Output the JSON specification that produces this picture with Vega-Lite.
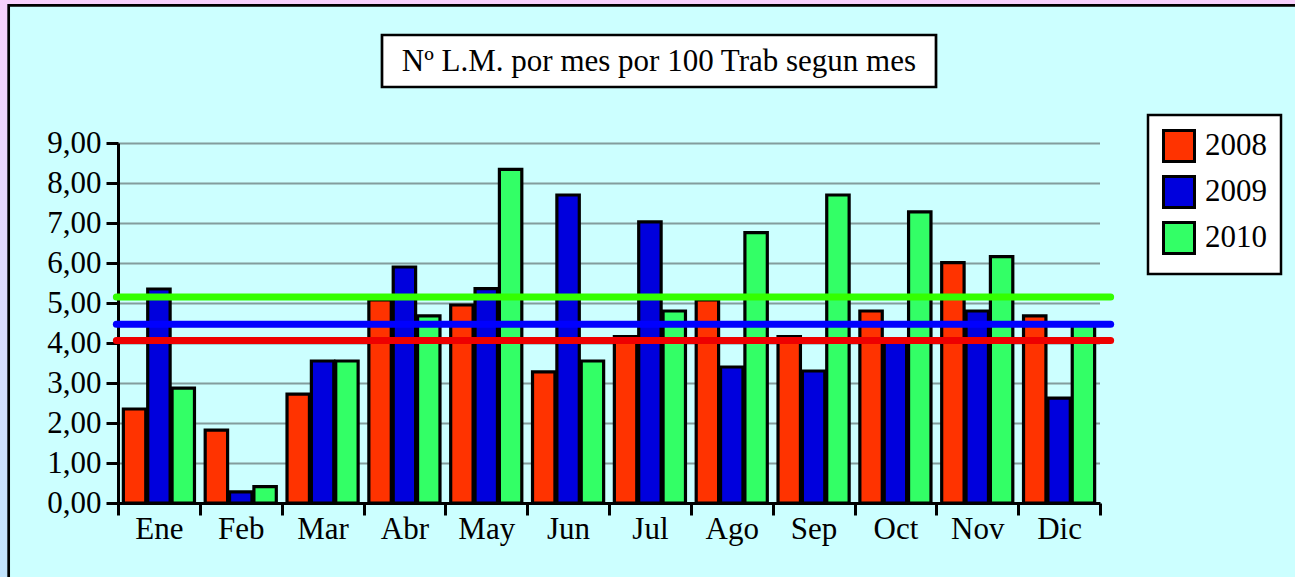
{
  "$schema": "https://vega.github.io/schema/vega-lite/v6.json",
  "width": 982,
  "height": 360,
  "autosize": {"type": "none"},
  "padding": {"left": 118, "top": 143, "right": 195, "bottom": 74},
  "background": "#ccffff",
  "config": {
    "view": {"stroke": null},
    "font": "Liberation Serif",
    "legend": {"strokeWidth": 2.5}
  },
  "resolve": {"axis": {"x": "independent", "y": "independent"}},
  "datasets": {
    "valores": [
      {"mes": "Ene", "anio": "2008", "valor": 2.35}, {"mes": "Ene", "anio": "2009", "valor": 5.35}, {"mes": "Ene", "anio": "2010", "valor": 2.87},
      {"mes": "Feb", "anio": "2008", "valor": 1.82}, {"mes": "Feb", "anio": "2009", "valor": 0.28}, {"mes": "Feb", "anio": "2010", "valor": 0.41},
      {"mes": "Mar", "anio": "2008", "valor": 2.72}, {"mes": "Mar", "anio": "2009", "valor": 3.55}, {"mes": "Mar", "anio": "2010", "valor": 3.55},
      {"mes": "Abr", "anio": "2008", "valor": 5.08}, {"mes": "Abr", "anio": "2009", "valor": 5.90}, {"mes": "Abr", "anio": "2010", "valor": 4.68},
      {"mes": "May", "anio": "2008", "valor": 4.95}, {"mes": "May", "anio": "2009", "valor": 5.36}, {"mes": "May", "anio": "2010", "valor": 8.34},
      {"mes": "Jun", "anio": "2008", "valor": 3.28}, {"mes": "Jun", "anio": "2009", "valor": 7.70}, {"mes": "Jun", "anio": "2010", "valor": 3.55},
      {"mes": "Jul", "anio": "2008", "valor": 4.16}, {"mes": "Jul", "anio": "2009", "valor": 7.03}, {"mes": "Jul", "anio": "2010", "valor": 4.80},
      {"mes": "Ago", "anio": "2008", "valor": 5.08}, {"mes": "Ago", "anio": "2009", "valor": 3.40}, {"mes": "Ago", "anio": "2010", "valor": 6.76},
      {"mes": "Sep", "anio": "2008", "valor": 4.16}, {"mes": "Sep", "anio": "2009", "valor": 3.30}, {"mes": "Sep", "anio": "2010", "valor": 7.70},
      {"mes": "Oct", "anio": "2008", "valor": 4.80}, {"mes": "Oct", "anio": "2009", "valor": 4.05}, {"mes": "Oct", "anio": "2010", "valor": 7.28},
      {"mes": "Nov", "anio": "2008", "valor": 6.01}, {"mes": "Nov", "anio": "2009", "valor": 4.80}, {"mes": "Nov", "anio": "2010", "valor": 6.16},
      {"mes": "Dic", "anio": "2008", "valor": 4.68}, {"mes": "Dic", "anio": "2009", "valor": 2.62}, {"mes": "Dic", "anio": "2010", "valor": 4.45}
    ],
    "medias": [
      {"serie": "Media 2008", "media": 4.06},
      {"serie": "Media 2009", "media": 4.47},
      {"serie": "Media 2010", "media": 5.15}
    ],
    "uno": [{}]
  },
  "layer": [
    {
      "data": {"name": "valores"},
      "mark": {"type": "bar", "stroke": "black", "strokeWidth": 3.2},
      "encoding": {
        "x": {
          "field": "mes", "type": "nominal",
          "scale": {"domain": ["Ene", "Feb", "Mar", "Abr", "May", "Jun", "Jul", "Ago", "Sep", "Oct", "Nov", "Dic"], "paddingInner": 0, "paddingOuter": 0},
          "axis": {
            "title": null, "labelAngle": 0, "tickBand": "extent", "bandPosition": 0.5,
            "domainColor": "black", "domainWidth": 3,
            "tickColor": "black", "tickWidth": 3, "tickSize": 12,
            "labelFont": "Liberation Serif", "labelFontSize": 31, "labelColor": "black", "labelPadding": -1
          }
        },
        "xOffset": {"field": "anio", "type": "nominal", "scale": {"paddingInner": 0.08, "paddingOuter": 0.22}},
        "y": {
          "field": "valor", "type": "quantitative",
          "scale": {"domain": [0, 9], "nice": false},
          "axis": {
            "title": null, "values": [0, 1, 2, 3, 4, 5, 6, 7, 8, 9], "labelOverlap": false,
            "labelExpr": "replace(format(datum.value, '.2f'), '.', ',')",
            "domainColor": "black", "domainWidth": 3,
            "tickColor": "black", "tickWidth": 3, "tickSize": 12,
            "labelFont": "Liberation Serif", "labelFontSize": 31, "labelColor": "black", "labelPadding": 5,
            "grid": true, "gridColor": "#3a3a3a", "gridDash": [1, 1], "gridWidth": 2
          }
        },
        "fill": {
          "field": "anio", "type": "nominal",
          "scale": {"domain": ["2008", "2009", "2010"], "range": ["#ff3300", "#0000dd", "#33ff66"]},
          "legend": {
            "title": null, "orient": "none", "legendX": 1030, "legendY": -28,
            "symbolType": "square", "symbolSize": 961, "symbolStrokeColor": "black", "symbolStrokeWidth": 3, "symbolOpacity": 1, "symbolFillOpacity": 1,
            "labelFont": "Liberation Serif", "labelFontSize": 31, "labelColor": "black", "labelOffset": 9,
            "rowPadding": 2, "padding": 14, "fillColor": "white", "strokeColor": "black"
          }
        }
      }
    },
    {
      "data": {"name": "medias"},
      "mark": {"type": "rule", "strokeWidth": 7, "strokeCap": "round"},
      "encoding": {
        "x": {"datum": "Ene", "type": "nominal", "bandPosition": -0.02, "axis": null},
        "x2": {"datum": "Dic", "bandPosition": 1.13},
        "y": {"field": "media", "type": "quantitative", "axis": null},
        "stroke": {"field": "serie", "type": "nominal", "scale": {"domain": ["Media 2008", "Media 2009", "Media 2010"], "range": ["#ee0000", "#0000ff", "#33ff00"]}, "legend": null}
      }
    },
    {
      "data": {"name": "uno"},
      "mark": {"type": "rect", "fillOpacity": 0, "strokeWidth": 16, "stroke": {"gradient": "linear", "x1": 0, "y1": 0, "x2": 0, "y2": 1, "stops": [{"offset": 0, "color": "#f8d0fc"}, {"offset": 1, "color": "#c0e4fc"}]}},
      "encoding": {
        "x": {"datum": "Ene", "type": "nominal", "bandPosition": -1.442, "axis": null},
        "x2": {"datum": "Dic", "bandPosition": 4},
        "y": {"datum": 12.65, "type": "quantitative", "axis": null},
        "y2": {"datum": -2.2}
      }
    },
    {
      "data": {"name": "uno"},
      "mark": {"type": "rect", "fillOpacity": 0, "strokeWidth": 2.7, "stroke": "black"},
      "encoding": {
        "x": {"datum": "Ene", "type": "nominal", "bandPosition": -1.336, "axis": null},
        "x2": {"datum": "Dic", "bandPosition": 4},
        "y": {"datum": 12.44, "type": "quantitative", "axis": null},
        "y2": {"datum": -2.2}
      }
    },
    {
      "data": {"name": "uno"},
      "mark": {"type": "rect", "fill": "white", "stroke": "black", "strokeWidth": 2.7},
      "encoding": {
        "x": {"datum": "Jul", "type": "nominal", "bandPosition": -2.774, "axis": null},
        "x2": {"datum": "Jul", "bandPosition": 3.996},
        "y": {"datum": 11.7, "type": "quantitative", "axis": null},
        "y2": {"datum": 10.4}
      }
    },
    {
      "data": {"name": "uno"},
      "mark": {"type": "text", "text": "Nº L.M. por mes por 100 Trab segun mes", "font": "Liberation Serif", "fontSize": 31, "color": "black", "align": "center", "baseline": "middle"},
      "encoding": {
        "x": {"datum": "Jul", "type": "nominal", "bandPosition": 0.61, "axis": null},
        "y": {"datum": 11.03, "type": "quantitative", "axis": null}
      }
    }
  ]
}
